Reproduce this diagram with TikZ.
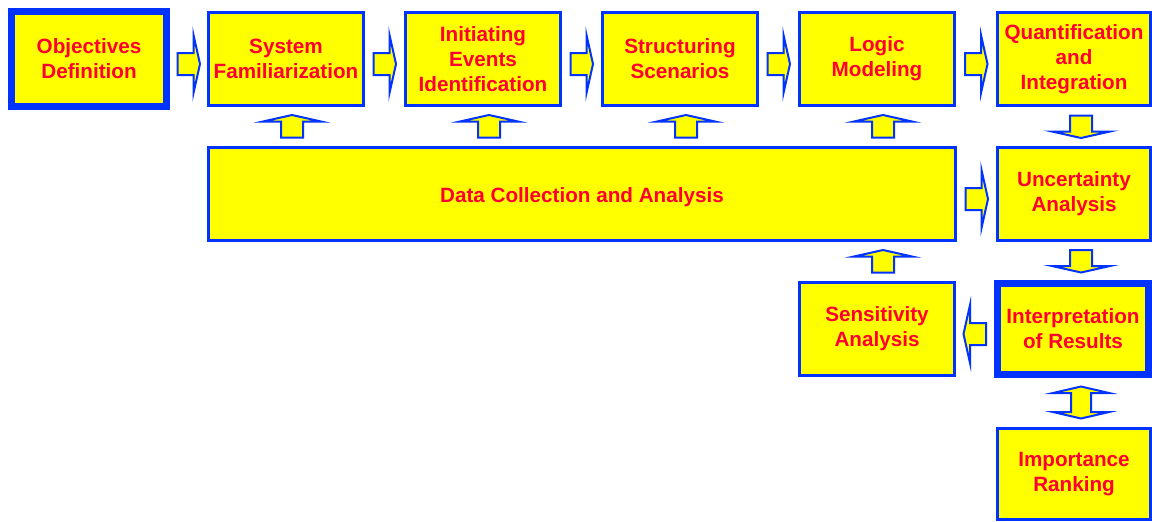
\documentclass[tikz,border=0pt]{standalone}
\usepackage{fontspec}
\setmainfont{Liberation Sans}
\usetikzlibrary{calc}
\definecolor{bblue}{RGB}{0,51,255}
\definecolor{byellow}{RGB}{255,255,0}
\definecolor{bred}{RGB}{255,0,51}
\begin{document}
\begin{tikzpicture}[x=0.75pt,y=-0.75pt,
  box/.style={draw=bblue, fill=byellow, line width=2.25pt, text=bred,
    font=\bfseries\fontsize{15.5}{18.75}\selectfont, align=center, inner sep=0pt,
    execute at begin node={\rule{0pt}{15.5pt}}},
  thickbox/.style={box, line width=5.25pt},
  arrowst/.style={draw=bblue, fill=byellow, line width=1.5pt},
  rarrow/.pic={\draw[arrowst] (-11,-11) -- (5,-11) -- (5,-29) -- (11.5,0) -- (5,29) -- (5,11) -- (-11,11) -- cycle;},
  dblarrow/.pic={\draw[arrowst] (0,-16) -- (28,-9.5) -- (10,-9.5) -- (10,9.5) -- (28,9.5) -- (0,16) -- (-28,9.5) -- (-10,9.5) -- (-10,-9.5) -- (-28,-9.5) -- cycle;}
]
\useasboundingbox (0,0) rectangle (1152,521);
% boxes
\node[thickbox, minimum width=116.25pt, minimum height=71.25pt] (obj) at (89,59) {Objectives\\Definition};
\node[box, minimum width=116.25pt, minimum height=69.75pt] (sys) at (286,59) {System\\Familiarization};
\node[box, minimum width=116.25pt, minimum height=69.75pt] (ini) at (483,59) {Initiating\\Events\\Identification};
\node[box, minimum width=116.25pt, minimum height=69.75pt] (str) at (680,59) {Structuring\\Scenarios};
\node[box, minimum width=116.25pt, minimum height=69.75pt] (log) at (877,59) {Logic\\Modeling};
\node[box, minimum width=114.75pt, minimum height=69.75pt] (qua) at (1074,59) {Quantification\\and\\Integration};
\node[box, minimum width=560.25pt, minimum height=69.75pt] (dat) at (582,194) {Data Collection and Analysis};
\node[box, minimum width=114.75pt, minimum height=69.75pt] (unc) at (1074,194) {Uncertainty\\Analysis};
\node[box, minimum width=116.25pt, minimum height=69.75pt] (sen) at (877,329) {Sensitivity\\Analysis};
\node[thickbox, minimum width=113.25pt, minimum height=68.25pt] (int) at (1073,329) {Interpretation\\of Results};
\node[box, minimum width=114.75pt, minimum height=68.25pt] (imp) at (1074,474) {Importance\\Ranking};
% right arrows along the top
\pic at ($(obj.east |- sys)!0.5!(sys.west)+(0,5)$) {rarrow};
\pic at ($(sys.east)!0.5!(ini.west)+(0,5)$) {rarrow};
\pic at ($(ini.east)!0.5!(str.west)+(0,5)$) {rarrow};
\pic at ($(str.east)!0.5!(log.west)+(0,5)$) {rarrow};
\pic at ($(log.east)!0.5!(qua.west)+(0,5)$) {rarrow};
% up arrows from data collection
\pic[rotate=90] at ($(dat.north -| sys)!0.5!(sys.south)+(6,0)$) {rarrow};
\pic[rotate=90] at ($(dat.north -| ini)!0.5!(ini.south)+(6,0)$) {rarrow};
\pic[rotate=90] at ($(dat.north -| str)!0.5!(str.south)+(6,0)$) {rarrow};
\pic[rotate=90] at ($(dat.north -| log)!0.5!(log.south)+(6,0)$) {rarrow};
% data -> uncertainty
\pic at ($(dat.east |- unc)!0.5!(unc.west)+(0,5)$) {rarrow};
% down arrows on the right column
\pic[rotate=-90] at ($(qua.south)!0.5!(unc.north)+(7,0)$) {rarrow};
\pic[rotate=-90] at ($(unc.south)!0.5!(int.north -| unc)+(7,0)$) {rarrow};
% interpretation -> sensitivity
\pic[rotate=180] at ($(int.west)!0.5!(sen.east)+(0,5)$) {rarrow};
% sensitivity -> data
\pic[rotate=90] at ($(sen.north)!0.5!(dat.south -| sen)+(6,0)$) {rarrow};
% interpretation <-> importance
\pic at ($(int.south -| imp)!0.5!(imp.north)+(7,0)$) {dblarrow};
\end{tikzpicture}
\end{document}
